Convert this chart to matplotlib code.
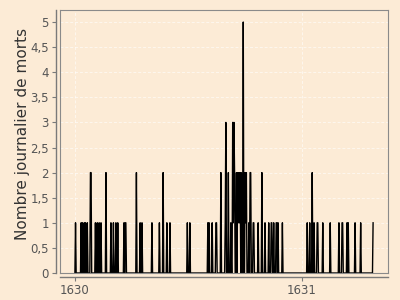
import numpy as np
import matplotlib
matplotlib.use("Agg")
import matplotlib.pyplot as plt
from matplotlib.ticker import FuncFormatter

# Daily death counts, 1630-01-01 onward (day index -> deaths); all other days are 0
start_year = 1630
n_days = 481
death_days = [1, 10, 12, 15, 17, 20, 25, 26, 33, 36, 39, 42, 50, 58, 62, 66, 69,
              79, 81, 82, 99, 105, 108, 124, 136, 142, 148, 153, 181, 185,
              214, 216, 221, 227, 228, 235, 242, 243, 247, 251, 254, 255, 256, 257,
              260, 262, 263, 264, 265, 266, 268, 269, 271, 274, 275, 276, 280,
              282, 283, 287, 288, 295, 301, 306, 312, 316, 317, 320, 324, 325, 327,
              334, 374, 378, 382, 385, 390, 391, 399, 411, 425, 430, 431, 438, 440,
              451, 460, 480]
death_counts = [1, 1, 1, 1, 1, 1, 2, 2, 1, 1, 1, 1, 2, 1, 1, 1, 1,
                1, 1, 1, 2, 1, 1, 1, 1, 2, 1, 1, 1, 1,
                1, 1, 1, 1, 1, 2, 1, 3, 2, 1, 3, 1, 3, 2,
                2, 2, 1, 2, 1, 2, 2, 1, 5, 2, 1, 2, 1,
                2, 2, 1, 1, 1, 2, 1, 1, 1, 1, 1, 1, 1, 1,
                1, 1, 1, 2, 1, 1, 1, 1, 1, 1, 1, 1, 1, 1,
                1, 1, 1]
y_ticks = [0, 0.5, 1, 1.5, 2, 2.5, 3, 3.5, 4, 4.5, 5]
x_ticks = [1630, 1631]
y_label = "Nombre journalier de morts"

series = np.zeros(n_days)
series[np.array(death_days)] = death_counts
x = start_year + np.arange(n_days) / 365.0

bg = "#fcebd6"
fig = plt.figure(figsize=(4, 3), dpi=100, facecolor=bg)
ax = fig.add_axes([0.15, 0.09, 0.82, 0.8767], facecolor=bg)

ax.plot(x, series, color="black", lw=1.0)

xr = x[-1] - x[0]
ax.set_xlim(x[0] - 0.05 * xr, x[-1] + 0.05 * xr)
ax.set_ylim(0, 5.24)
ax.set_yticks(y_ticks)
ax.set_xticks(x_ticks)
ax.yaxis.set_major_formatter(FuncFormatter(lambda v, p: ("%g" % v).replace(".", ",")))
ax.xaxis.set_major_formatter(FuncFormatter(lambda v, p: "%d" % v))

ax.grid(True, color="white", ls=(0, (3, 2)), lw=0.7, alpha=0.6)
ax.set_axisbelow(True)

for s in ["top", "right"]:
    ax.spines[s].set_color("#8a8a8a")
    ax.spines[s].set_linewidth(0.8)
for s in ["left", "bottom"]:
    ax.spines[s].set_color("#7a7a7a")
    ax.spines[s].set_linewidth(1.0)
    ax.spines[s].set_position(("outward", 3))

# inner panel frame edges on left and bottom
ax.plot([0, 0], [0, 1], transform=ax.transAxes, color="#8a8a8a", lw=0.8, clip_on=False)
ax.plot([0, 1], [0, 0], transform=ax.transAxes, color="#8a8a8a", lw=0.8, clip_on=False)

ax.tick_params(axis="both", colors="#7a7a7a", labelcolor="#555555", labelsize=8.5,
               length=3, width=0.8, pad=2)
ax.set_ylabel(y_label, fontsize=11, color="#333333", labelpad=0)
ax.yaxis.label.set_y(0.53)

fig.savefig("out.png", dpi=100, facecolor=bg)
